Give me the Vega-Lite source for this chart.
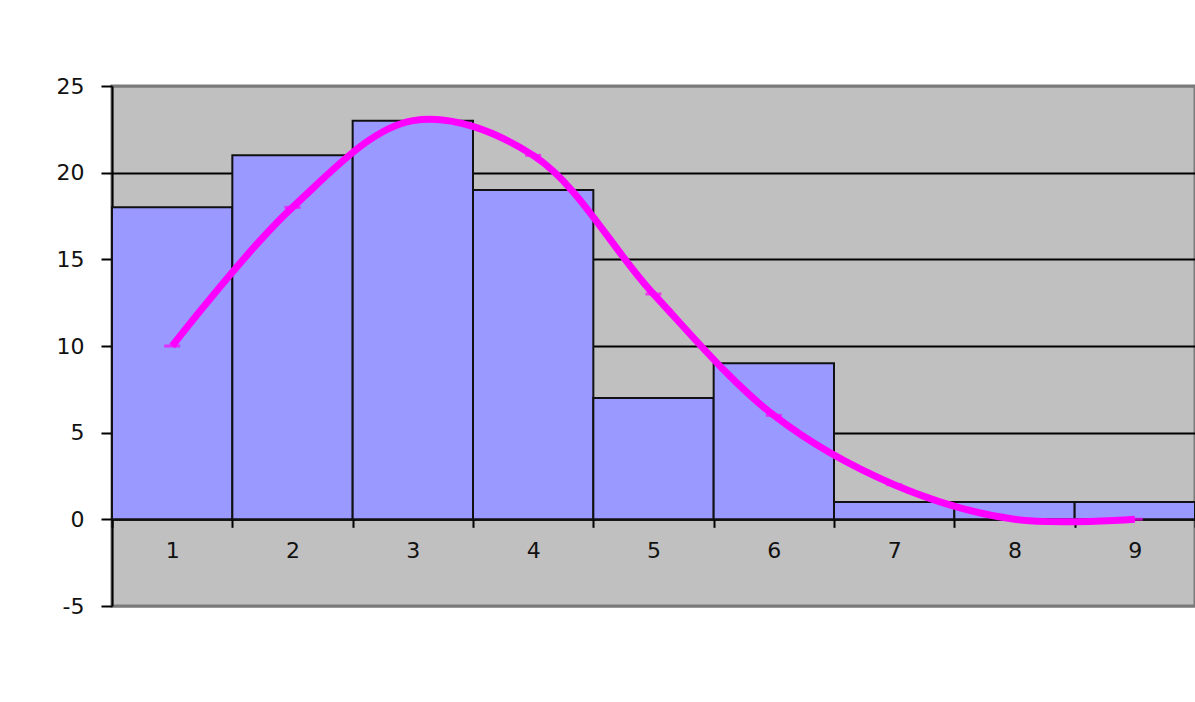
{
  "$schema": "https://vega.github.io/schema/vega-lite/v6.json",
  "autosize": {"type": "none"},
  "padding": {"left": 112, "top": 86, "right": 0, "bottom": 96},
  "width": 1083,
  "height": 520,
  "background": "white",
  "config": {
    "font": "DejaVu Sans",
    "view": {"fill": "#C0C0C0", "stroke": "#7a7a7a", "strokeWidth": 3}
  },
  "data": {"values": [
    {"k": "1", "count": 18, "fit": 10},
    {"k": "2", "count": 21, "fit": 18},
    {"k": "3", "count": 23, "fit": 23},
    {"k": "4", "count": 19, "fit": 21},
    {"k": "5", "count": 7, "fit": 13},
    {"k": "6", "count": 9, "fit": 6},
    {"k": "7", "count": 1, "fit": 2},
    {"k": "8", "count": 1, "fit": 0},
    {"k": "9", "count": 1, "fit": 0}
  ]},
  "encoding": {
    "x": {
      "field": "k", "type": "ordinal",
      "scale": {"paddingInner": 0, "paddingOuter": 0},
      "axis": {
        "title": null, "labelAngle": 0, "offset": -86.67,
        "domain": true, "domainColor": "#000", "domainWidth": 2,
        "ticks": true, "tickBand": "extent", "tickSize": 8, "tickColor": "#000", "tickWidth": 2,
        "labelFont": "DejaVu Sans", "labelFontSize": 22, "labelColor": "#111", "labelPadding": 13, "grid": false
      }
    }
  },
  "layer": [
    {
      "mark": {"type": "bar", "fill": "#9999FF", "stroke": "#111", "strokeWidth": 2},
      "encoding": {
        "y": {
          "field": "count", "type": "quantitative",
          "scale": {"domain": [-5, 25], "nice": false, "zero": false},
          "axis": {
            "title": null, "values": [-5, 0, 5, 10, 15, 20, 25],
            "labelExpr": "'' + datum.value",
            "grid": true, "gridWidth": 2,
            "gridColor": {"condition": {"test": "datum.value == 25 || datum.value == -5", "value": "#7a7a7a"}, "value": "#000"},
            "domain": true, "domainColor": "#000", "domainWidth": 2,
            "ticks": true, "tickSize": 11, "tickColor": "#000", "tickWidth": 2,
            "labelFont": "DejaVu Sans", "labelFontSize": 22, "labelColor": "#111", "labelPadding": 17
          }
        }
      }
    },
    {
      "mark": {"type": "line", "interpolate": "catmull-rom", "color": "#FF00FF", "strokeWidth": 7},
      "encoding": {"y": {"field": "fit", "type": "quantitative"}}
    },
    {
      "mark": {"type": "tick", "color": "#FF00FF", "size": 16, "thickness": 3},
      "encoding": {"y": {"field": "fit", "type": "quantitative"}}
    }
  ]
}
